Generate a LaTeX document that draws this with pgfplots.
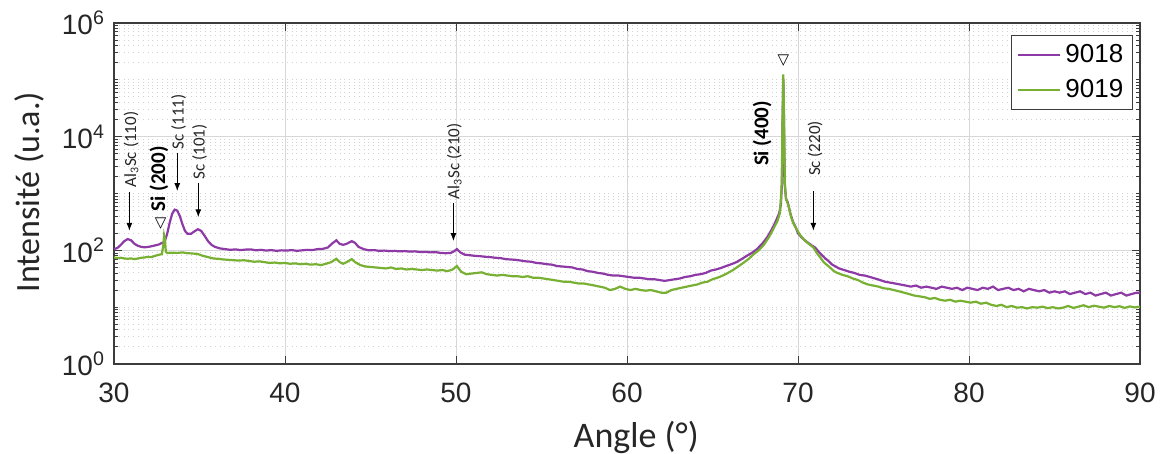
\documentclass[border=0pt]{standalone}
\usepackage{fontspec}
\setmainfont{Carlito}
\newfontfamily\dejavu{DejaVu Sans}
\newfontfamily\arial{Liberation Sans}
\usepackage{pgfplots}
\pgfplotsset{compat=1.18}
\usetikzlibrary{arrows.meta}
\definecolor{cpurple}{RGB}{142,58,166}
\definecolor{cgreen}{RGB}{119,176,50}
\definecolor{gridmaj}{RGB}{215,215,215}
\definecolor{axgray}{RGB}{60,60,60}
\begin{document}
\begin{tikzpicture}
\path[use as bounding box] (-57pt,-45pt) rectangle (525.5pt,182pt);
\begin{axis}[
  scale only axis,
  width=513pt, height=170.5pt,
  xmin=30, xmax=90,
  ymode=log, ymin=1, ymax=1e6,
  xtick={30,40,50,60,70,80,90},
  xticklabels={30,40,50,60,70,80,90},
  ytick={1,100,10000,1000000},
  yticklabels={10\textsuperscript{0},10\textsuperscript{2},10\textsuperscript{4},10\textsuperscript{6}},
  minor ytick={2,3,4,5,6,7,8,9,10,20,30,40,50,60,70,80,90,200,300,400,500,600,700,800,900,1000,2000,3000,4000,5000,6000,7000,8000,9000,20000,30000,40000,50000,60000,70000,80000,90000,100000,200000,300000,400000,500000,600000,700000,800000,900000},
  tick align=inside,
  major tick length=4pt, minor tick length=2pt,
  tick style={axgray, line width=0.4pt},
  axis line style={axgray, line width=0.6pt},
  grid=both,
  major grid style={gridmaj, line width=0.5pt},
  minor grid style={gray!35, dotted, line width=0.45pt},
  ticklabel style={font=\arial\fontsize{14}{16}\selectfont, text=black!85},
  xticklabel style={yshift=-6pt},
  yticklabel style={xshift=-1pt},
  xlabel={Angle (°)},
  ylabel={Intensité (u.a.)},
  every axis x label/.style={at={(axis description cs:0.509,-0.216)}, anchor=center,
    font=\fontsize{18}{20}\selectfont, text=black!85},
  every axis y label/.style={at={(axis description cs:-0.082,0.504)}, anchor=center, rotate=90,
    font=\fontsize{17}{19}\selectfont, text=black!85},
  legend style={at={(axis description cs:0.993,0.965)}, anchor=north east,
    font=\arial\fontsize{13}{15}\selectfont, draw=axgray, line width=0.6pt,
    inner sep=2.5pt, row sep=3pt},
  legend cell align=left,
  legend image post style={line width=1.1pt},
  legend image code/.code={\draw[#1] (0cm,0cm) -- (0.75cm,0cm);},
]
\addplot[cpurple, line width=1.1pt] coordinates {
(30.0,105) (30.2,110) (30.4,125) (30.6,145) (30.8,158) (31.0,150) (31.2,130) (31.4,120) (31.6,115) (31.8,113)
(32.0,115) (32.2,118) (32.4,122) (32.6,126) (32.8,135) (32.95,140) (33.1,190) (33.25,300) (33.4,440) (33.55,520)
(33.7,500) (33.85,400) (34.0,290) (34.15,220) (34.3,195) (34.5,195) (34.7,215) (34.9,235) (35.1,220) (35.3,180)
(35.5,145) (35.7,125) (35.9,115) (36.2,108) (36.5,105) (36.8,102) (37.1,104) (37.4,101) (37.7,103) (38.0,104)
(38.3,100) (38.6,102) (38.9,99) (39.2,101) (39.5,98) (39.8,100) (40.1,99) (40.4,101) (40.7,98) (41.0,100)
(41.3,102) (41.6,101) (41.9,105) (42.2,106) (42.5,112) (42.8,135) (43.0,150) (43.2,130) (43.4,125) (43.6,130)
(43.9,145) (44.1,135) (44.3,115) (44.6,105) (44.9,100) (45.2,101) (45.5,98) (45.8,99) (46.1,97) (46.4,98)
(46.7,96) (47.0,97) (47.3,95) (47.6,96) (47.9,93) (48.2,94) (48.5,92) (48.8,93) (49.1,90) (49.4,89)
(49.7,90) (49.9,97) (50.05,105) (50.25,92) (50.5,84) (50.8,82) (51.1,80) (51.4,79) (51.7,77) (52.0,76)
(52.3,74) (52.6,73) (52.9,70) (53.2,69) (53.5,68) (53.8,66) (54.1,64) (54.4,63) (54.7,60) (55.0,59)
(55.3,57) (55.6,56) (55.9,53) (56.2,52) (56.5,51) (56.8,50) (57.1,47) (57.4,46) (57.7,43) (58.0,42)
(58.3,40) (58.6,39) (58.9,37) (59.2,36) (59.5,36) (59.8,35) (60.1,34) (60.4,33) (60.7,33) (61.0,32)
(61.3,31) (61.6,31) (61.9,30) (62.2,29) (62.5,30) (62.8,31) (63.1,32) (63.4,34) (63.7,35) (64.0,37)
(64.3,38) (64.6,40) (64.9,44) (65.2,46) (65.5,49) (65.8,53) (66.1,57) (66.4,62) (66.7,70) (67.0,80)
(67.3,90) (67.6,105) (67.9,130) (68.2,170) (68.4,215) (68.6,280) (68.75,350) (68.9,450) (69.0,650) (69.06,1500)
(69.1,20000) (69.14,105000) (69.18,20000) (69.22,1500) (69.3,800) (69.4,700) (69.55,450) (69.7,320) (69.85,260) (70.0,200)
(70.2,170) (70.4,150) (70.6,135) (70.8,122) (71.0,112) (71.2,95) (71.4,82) (71.6,72) (71.8,64) (72.0,56)
(72.2,52) (72.4,48) (72.6,46) (72.8,44) (73.0,42) (73.3,40) (73.6,37) (73.9,36) (74.2,34) (74.5,32)
(74.8,30) (75.1,28) (75.4,27) (75.7,26) (76.0,25) (76.3,24) (76.6,23) (76.9,24) (77.2,22) (77.5,23)
(77.8,22) (78.1,21) (78.4,23) (78.7,22) (79.0,21) (79.3,22) (79.6,20) (79.9,22) (80.2,21) (80.5,20)
(80.8,22) (81.1,21) (81.4,23) (81.7,20) (82.0,21) (82.3,22) (82.6,20) (82.9,21) (83.2,19) (83.5,21)
(83.8,20) (84.1,19) (84.4,20) (84.7,18) (85.0,19) (85.3,18) (85.6,19) (85.9,17) (86.2,18) (86.5,19)
(86.8,17) (87.1,18) (87.4,16) (87.7,17) (88.0,18) (88.3,16) (88.6,17) (88.9,18) (89.2,16) (89.5,17)
(89.8,18) (90.0,18)
};
\addlegendentry{9018}
\addplot[cgreen, line width=1.1pt] coordinates {
(30.0,75) (30.2,73) (30.4,74) (30.6,72) (30.8,71) (31.0,72) (31.2,70) (31.4,72) (31.6,74) (31.8,75)
(32.0,77) (32.2,76) (32.4,80) (32.6,83) (32.8,86) (32.88,120) (32.93,185) (32.98,160) (33.03,95) (33.1,90)
(33.4,91) (33.7,90) (34.0,92) (34.3,89) (34.6,88) (34.9,86) (35.2,80) (35.5,76) (35.8,72) (36.1,71)
(36.4,69) (36.7,68) (37.0,67) (37.3,66) (37.6,67) (37.9,65) (38.2,63) (38.5,64) (38.8,62) (39.1,60)
(39.4,61) (39.7,59) (40.0,60) (40.3,58) (40.6,59) (40.9,57) (41.2,58) (41.5,56) (41.8,57) (42.1,55)
(42.4,58) (42.7,62) (43.0,71) (43.2,62) (43.4,58) (43.6,62) (43.9,70) (44.1,62) (44.4,55) (44.7,52)
(45.0,51) (45.3,50) (45.6,49) (45.9,48) (46.2,50) (46.5,47) (46.8,48) (47.1,46) (47.4,47) (47.7,46)
(48.0,45) (48.3,46) (48.6,45) (48.9,44) (49.2,45) (49.5,43) (49.8,46) (50.05,53) (50.3,42) (50.6,38)
(50.9,39) (51.2,40) (51.5,41) (51.8,38) (52.1,37) (52.4,36) (52.7,37) (53.0,36) (53.3,35) (53.6,35)
(53.9,34) (54.2,35) (54.5,33) (54.8,33) (55.1,32) (55.4,31) (55.7,30) (56.0,29) (56.3,28) (56.6,28)
(56.9,27) (57.2,26) (57.5,26) (57.8,25) (58.1,24) (58.4,23) (58.7,22) (59.0,20) (59.3,21) (59.6,23)
(59.9,21) (60.2,20) (60.5,21) (60.8,20) (61.1,19.5) (61.4,20) (61.7,19) (62.0,18) (62.3,18) (62.6,20)
(62.9,21) (63.2,22) (63.5,23) (63.8,24) (64.1,25) (64.4,27) (64.7,28) (65.0,31) (65.3,33) (65.6,36)
(65.9,40) (66.2,45) (66.5,52) (66.8,60) (67.1,70) (67.4,85) (67.7,100) (68.0,125) (68.3,170) (68.55,235)
(68.8,330) (68.95,460) (69.05,1500) (69.1,25000) (69.14,125000) (69.18,25000) (69.23,1500) (69.3,800) (69.45,600) (69.6,380)
(69.75,290) (69.9,240) (70.1,190) (70.3,160) (70.5,140) (70.7,125) (70.9,112) (71.1,90) (71.3,75) (71.5,62)
(71.7,55) (71.9,49) (72.1,43) (72.3,40) (72.6,37) (72.9,35) (73.2,32) (73.5,30) (73.8,27) (74.1,25)
(74.4,24) (74.7,23) (75.0,21.5) (75.3,21) (75.6,20) (75.9,19) (76.2,18) (76.5,17) (76.8,16) (77.1,15.5)
(77.4,15) (77.7,14) (78.0,14.5) (78.3,13.5) (78.6,13) (78.9,13.5) (79.2,12.5) (79.5,13) (79.8,12.5) (80.1,12)
(80.4,12.5) (80.7,11.5) (81.0,12) (81.3,11) (81.6,10.5) (81.9,11) (82.2,10) (82.5,10.5) (82.8,9.8) (83.1,10)
(83.4,9.5) (83.7,10) (84.0,9.8) (84.3,10.2) (84.6,9.6) (84.9,10) (85.2,9.5) (85.5,9.8) (85.8,10.5) (86.1,9.7)
(86.4,10.2) (86.7,10.8) (87.0,10) (87.3,10.6) (87.6,10.2) (87.9,9.8) (88.2,10.5) (88.5,10) (88.8,10.4) (89.1,9.7)
(89.4,10.3) (89.7,9.9) (90.0,10.2)
};
\addlegendentry{9019}
% annotations
\tikzset{arr/.style={-{Latex[length=4pt,width=3pt]}, black, line width=0.6pt},
  lab/.style={rotate=90, anchor=west, inner sep=0pt, font=\fontsize{8.5}{9}\selectfont, text=black!85},
  blab/.style={rotate=90, anchor=west, inner sep=0pt, font=\fontsize{10.5}{11}\selectfont\bfseries},
  tri/.style={inner sep=0pt, font=\dejavu\fontsize{7.5}{8}\selectfont}}
\draw[arr] (axis cs:30.9,1050) -- (axis cs:30.9,220);
\node[lab] at (axis cs:31.0,1250) {Al\textsubscript{3}Sc (110)};
\node[blab] at (axis cs:32.62,480) {Si (200)};
\node[tri] at (axis cs:32.73,290) {▽};
\draw[arr] (axis cs:33.7,5200) -- (axis cs:33.7,1100);
\node[lab] at (axis cs:33.78,5900) {Sc (111)};
\draw[arr] (axis cs:34.93,1550) -- (axis cs:34.93,380);
\node[lab] at (axis cs:35.0,1750) {Sc (101)};
\draw[arr] (axis cs:49.85,690) -- (axis cs:49.85,145);
\node[lab] at (axis cs:49.9,780) {Al\textsubscript{3}Sc (210)};
\node[blab] at (axis cs:67.9,3000) {Si (400)};
\node[tri] at (axis cs:69.15,220000) {▽};
\draw[arr] (axis cs:70.9,1100) -- (axis cs:70.9,220);
\node[lab] at (axis cs:71.0,2000) {Sc (220)};
\end{axis}
\end{tikzpicture}
\end{document}
